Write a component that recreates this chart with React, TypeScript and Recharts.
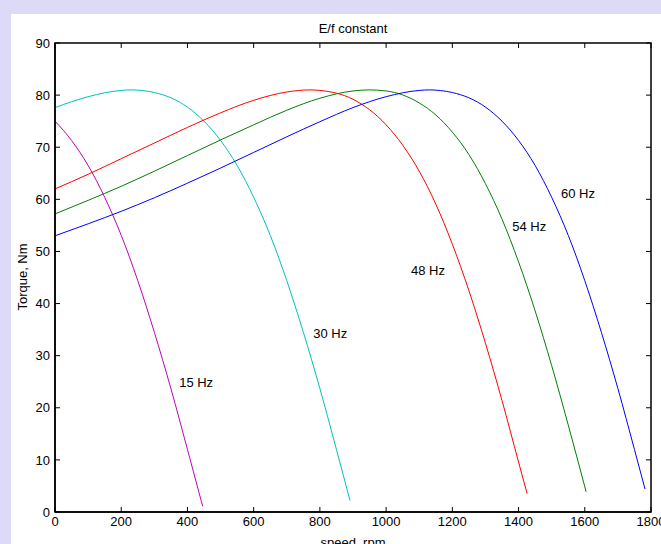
import React from "react";
import { LineChart, Line, XAxis, YAxis, ReferenceArea, ReferenceDot } from "recharts";

// speed [rpm], torque [Nm]
const curve15: [number, number][] = [
  [0, 75.0], [50, 71.3], [100, 66.5], [150, 60.4], [200, 53.1], [250, 44.4],
  [300, 34.5], [350, 23.7], [400, 12.0], [446, 1.1],
];
const curve30: [number, number][] = [
  [0, 77.6], [100, 79.7], [200, 80.9], [230, 81.0], [300, 80.5], [400, 77.7],
  [450, 75.0], [500, 71.3], [550, 66.5], [600, 60.4], [650, 53.1], [700, 44.4],
  [750, 34.5], [800, 23.7], [850, 12.0], [891, 2.2],
];
const curve48: [number, number][] = [
  [0, 62.0], [100, 64.8], [200, 67.8], [300, 70.8], [400, 73.8], [500, 76.6],
  [600, 79.0], [700, 80.6], [770, 81.0], [800, 80.9], [900, 79.2], [950, 77.2],
  [1000, 74.3], [1050, 70.4], [1100, 65.4], [1150, 59.1], [1200, 51.4],
  [1250, 42.5], [1300, 32.4], [1350, 21.4], [1400, 9.6], [1426, 3.5],
];
const curve54: [number, number][] = [
  [0, 57.2], [100, 59.8], [200, 62.5], [300, 65.4], [400, 68.4], [500, 71.4],
  [600, 74.3], [700, 77.1], [800, 79.4], [900, 80.8], [950, 81.0], [1000, 80.8],
  [1100, 78.5], [1150, 76.2], [1200, 72.9], [1250, 68.6], [1300, 63.0],
  [1350, 56.2], [1400, 48.0], [1450, 38.6], [1500, 28.1], [1550, 16.7], [1604, 3.9],
];
const curve60: [number, number][] = [
  [0, 53.0], [100, 55.3], [200, 57.7], [300, 60.3], [400, 63.1], [500, 66.0],
  [600, 69.0], [700, 72.0], [800, 74.9], [900, 77.6], [1000, 79.7], [1100, 80.9],
  [1130, 81.0], [1200, 80.5], [1300, 77.7], [1350, 75.0], [1400, 71.3],
  [1450, 66.5], [1500, 60.4], [1550, 53.1], [1600, 44.4], [1650, 34.5],
  [1700, 23.7], [1750, 12.0], [1782, 4.4],
];

const speedTicks = [0, 200, 400, 600, 800, 1000, 1200, 1400, 1600, 1800];
const torqueTicks = [0, 10, 20, 30, 40, 50, 60, 70, 80, 90];

const series = [
  { name: "15 Hz", color: "#bf00bf", points: curve15 },
  { name: "30 Hz", color: "#00bfbf", points: curve30 },
  { name: "48 Hz", color: "#ff0000", points: curve48 },
  { name: "54 Hz", color: "#008000", points: curve54 },
  { name: "60 Hz", color: "#0000ff", points: curve60 },
];

// where each text label sits (left edge, vertical middle), in data units
const curveLabels = [
  { text: "15 Hz", speed: 375, torque: 24.8 },
  { text: "30 Hz", speed: 780, torque: 34.3 },
  { text: "48 Hz", speed: 1075, torque: 46.3 },
  { text: "54 Hz", speed: 1381, torque: 54.8 },
  { text: "60 Hz", speed: 1528, torque: 61.1 },
];

const FONT = '"Liberation Sans", Arial, Helvetica, sans-serif';
const CHART_W = 650;
const CHART_H = 530;
const Y_AXIS_W = 44;
const X_AXIS_H = 32;
const MARGIN = { top: 29, right: 10, left: 0, bottom: 0 };
const PLOT_TOP = MARGIN.top;
const PLOT_RIGHT = CHART_W - MARGIN.right;
const TICK_LEN = 5;
const TICK_GAP = 5;

function XTick(props: any) {
  const { x, y, payload } = props;
  const axisY = y - TICK_GAP;
  return (
    <g>
      <line x1={x} y1={axisY} x2={x} y2={axisY - TICK_LEN} stroke="#000" />
      <line x1={x} y1={PLOT_TOP} x2={x} y2={PLOT_TOP + TICK_LEN} stroke="#000" />
      <text x={x} y={y} dy="0.71em" textAnchor="middle" fontSize={13} fill="#000">
        {payload.value}
      </text>
    </g>
  );
}

function YTick(props: any) {
  const { x, y, payload } = props;
  const axisX = x + TICK_GAP;
  return (
    <g>
      <line x1={axisX} y1={y} x2={axisX + TICK_LEN} y2={y} stroke="#000" />
      <line x1={PLOT_RIGHT} y1={y} x2={PLOT_RIGHT - TICK_LEN} y2={y} stroke="#000" />
      <text x={x} y={y} dy="0.355em" textAnchor="end" fontSize={13} fill="#000">
        {payload.value}
      </text>
    </g>
  );
}

export default function App() {
  return (
    <div
      style={{
        position: "fixed",
        left: 0,
        top: 0,
        width: 661,
        height: 544,
        overflow: "hidden",
        background: "#dddaf8",
        fontFamily: FONT,
      }}
    >
      <div
        style={{
          position: "absolute",
          left: 11,
          top: 14,
          width: CHART_W,
          height: CHART_H,
          background: "#fff",
        }}
      >
        <LineChart width={CHART_W} height={CHART_H} margin={MARGIN} style={{ fontFamily: FONT }}>
          <XAxis
            dataKey="speed"
            type="number"
            domain={[0, 1800]}
            ticks={speedTicks}
            interval={0}
            height={X_AXIS_H}
            tickSize={0}
            tickMargin={TICK_GAP}
            tickLine={false}
            axisLine={{ stroke: "#000", strokeWidth: 1.5 }}
            tick={<XTick />}
          />
          <YAxis
            type="number"
            domain={[0, 90]}
            ticks={torqueTicks}
            interval={0}
            width={Y_AXIS_W}
            tickSize={0}
            tickMargin={TICK_GAP}
            tickLine={false}
            axisLine={{ stroke: "#000", strokeWidth: 1.5 }}
            tick={<YTick />}
          />
          <ReferenceArea
            x1={0}
            x2={1800}
            y1={0}
            y2={90}
            fill="none"
            fillOpacity={0}
            stroke="#000"
            strokeWidth={1.5}
          />
          {series.map((s) => (
            <Line
              key={s.name}
              name={s.name}
              data={s.points.map(([speed, torque]) => ({ speed, torque }))}
              dataKey="torque"
              type="monotone"
              stroke={s.color}
              strokeWidth={1}
              dot={false}
              activeDot={false}
              isAnimationActive={false}
            />
          ))}
          {curveLabels.map((l) => (
            <ReferenceDot
              key={l.text}
              x={l.speed}
              y={l.torque}
              r={0}
              fill="none"
              stroke="none"
              label={{ value: l.text, position: "right", offset: 0, fill: "#000", fontSize: 13 }}
            />
          ))}
        </LineChart>
        <div
          style={{
            position: "absolute",
            left: Y_AXIS_W,
            width: CHART_W - Y_AXIS_W - MARGIN.right,
            top: 7,
            lineHeight: "15px",
            fontSize: 13,
            textAlign: "center",
            color: "#000",
          }}
        >
          E/f constant
        </div>
        <div
          style={{
            position: "absolute",
            left: Y_AXIS_W,
            width: CHART_W - Y_AXIS_W - MARGIN.right,
            top: 521,
            lineHeight: "15px",
            fontSize: 13,
            textAlign: "center",
            color: "#000",
          }}
        >
          speed, rpm
        </div>
        <div
          style={{
            position: "absolute",
            left: 11,
            top: 263,
            width: 0,
            height: 0,
            fontSize: 13,
            color: "#000",
          }}
        >
          <div
            style={{
              position: "absolute",
              left: 0,
              top: 0,
              whiteSpace: "nowrap",
              lineHeight: "15px",
              transform: "translate(-50%, -50%) rotate(-90deg)",
            }}
          >
            Torque, Nm
          </div>
        </div>
      </div>
    </div>
  );
}
